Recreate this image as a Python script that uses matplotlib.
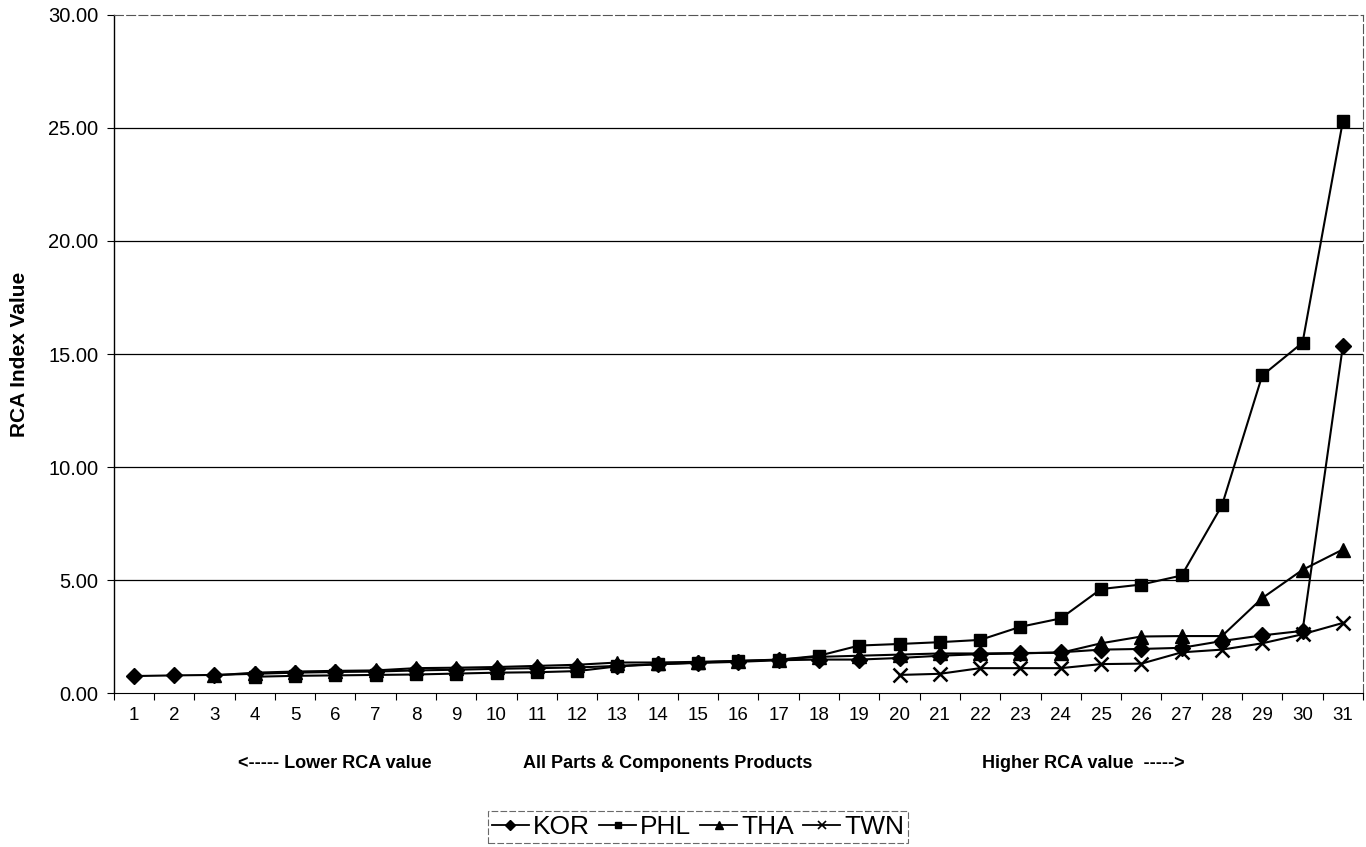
import numpy as np
import matplotlib
matplotlib.use("Agg")
import matplotlib.pyplot as plt
from matplotlib.lines import Line2D
from matplotlib import font_manager

nan = np.nan
categories = list(range(1, 32))
kor = [0.75, 0.78, 0.80, 0.85, 0.90, 0.93, 0.95, 1.00, 1.03, 1.07, 1.10, 1.13, 1.20, 1.28, 1.33,
       1.38, 1.45, 1.48, 1.48, 1.55, 1.65, 1.72, 1.75, 1.80, 1.92, 1.95, 2.00, 2.30, 2.55, 2.75, 15.35]
phl = [nan, nan, nan, 0.72, 0.76, 0.78, 0.80, 0.82, 0.86, 0.90, 0.92, 0.97, 1.18, 1.27, 1.35,
       1.42, 1.47, 1.65, 2.10, 2.17, 2.25, 2.35, 2.93, 3.30, 4.60, 4.80, 5.20, 8.30, 14.05, 15.50, 25.30]
tha = [nan, nan, 0.78, 0.90, 0.95, 0.98, 1.00, 1.10, 1.12, 1.15, 1.20, 1.25, 1.35, 1.35, 1.38,
       1.42, 1.48, 1.60, 1.65, 1.70, 1.75, 1.75, 1.77, 1.78, 2.20, 2.50, 2.52, 2.52, 4.20, 5.45, 6.35]
twn = [nan] * 19 + [0.80, 0.85, 1.10, 1.10, 1.10, 1.28, 1.30, 1.80, 1.92, 2.20, 2.60, 3.10]
series_names = ["KOR", "PHL", "THA", "TWN"]
yticks = [0, 5, 10, 15, 20, 25, 30]

names = {f.name for f in font_manager.fontManager.ttflist}
base = "Liberation Sans" if "Liberation Sans" in names else "DejaVu Sans"
narrow = "Liberation Sans Narrow" if "Liberation Sans Narrow" in names else base
plt.rcParams['font.family'] = [base, 'DejaVu Sans']

fig = plt.figure(figsize=(13.66, 8.47), dpi=100)
ax = fig.add_axes([0.0832, 0.1818, 0.9146, 0.8005])

markers = ["D", "s", "^", "x"]
msizes = [8.5, 8.5, 9.5, 10]
for vals, m, ms, name in zip([kor, phl, tha, twn], markers, msizes, series_names):
    ax.plot(categories, vals, color="black", lw=1.5, marker=m, ms=ms,
            mew=1.8 if m == "x" else 1, mfc="black", mec="black", label=name)

ax.set_xlim(0.5, 31.5)
ax.set_ylim(0, 30)
ax.set_yticks(yticks)
ax.set_yticklabels([f"{v:.2f}" for v in yticks], fontsize=14.5)
for v in yticks[1:-1]:
    ax.axhline(v, color="black", lw=0.9, zorder=0)
ax.set_xticks(categories)
ax.set_xticklabels([str(c) for c in categories], fontsize=13.5)
ax.set_xticks(np.arange(0.5, 32, 1), minor=True)
ax.tick_params(axis="x", which="major", length=0, pad=10)
ax.tick_params(axis="x", which="minor", length=5, width=0.8, direction="out")
ax.tick_params(axis="y", length=5, width=0.8, pad=6)
ax.spines["left"].set_linewidth(1.0)
ax.spines["bottom"].set_linewidth(0.8)
for s in ["top", "right"]:
    ax.spines[s].set_color("#555555")
    ax.spines[s].set_linewidth(0.8)
    ax.spines[s].set_linestyle((0, (8, 3)))

ax.set_ylabel("RCA Index Value", fontsize=15, fontweight="bold", family=[narrow, 'DejaVu Sans'], labelpad=14)

fig.text(238 / 1366, 1 - 763 / 847, "<----- Lower RCA value", fontsize=13, fontweight="bold", ha="left", va="center")
fig.text(523 / 1366, 1 - 763 / 847, "All Parts & Components Products", fontsize=13, fontweight="bold", ha="left", va="center")
fig.text(982 / 1366, 1 - 763 / 847, "Higher RCA value  ----->", fontsize=13, fontweight="bold", ha="left", va="center")

handles = [Line2D([], [], color="black", lw=1.3, marker=m, ms=s, mfc="black", mec="black",
                  mew=1.2 if m == "x" else 1)
           for m, s in zip(markers, [5, 5, 6, 6])]
leg = fig.legend(handles, series_names, loc="center", bbox_to_anchor=(698 / 1366, 1 - 827 / 847),
                 ncol=4, fontsize=19, frameon=True, fancybox=False, handlelength=1.4,
                 handletextpad=0.15, columnspacing=0.35, borderpad=0.15, edgecolor="#444444")
leg.get_frame().set_linewidth(0.8)
leg.get_frame().set_linestyle((0, (6, 2)))

fig.savefig("out.png", dpi=100)
